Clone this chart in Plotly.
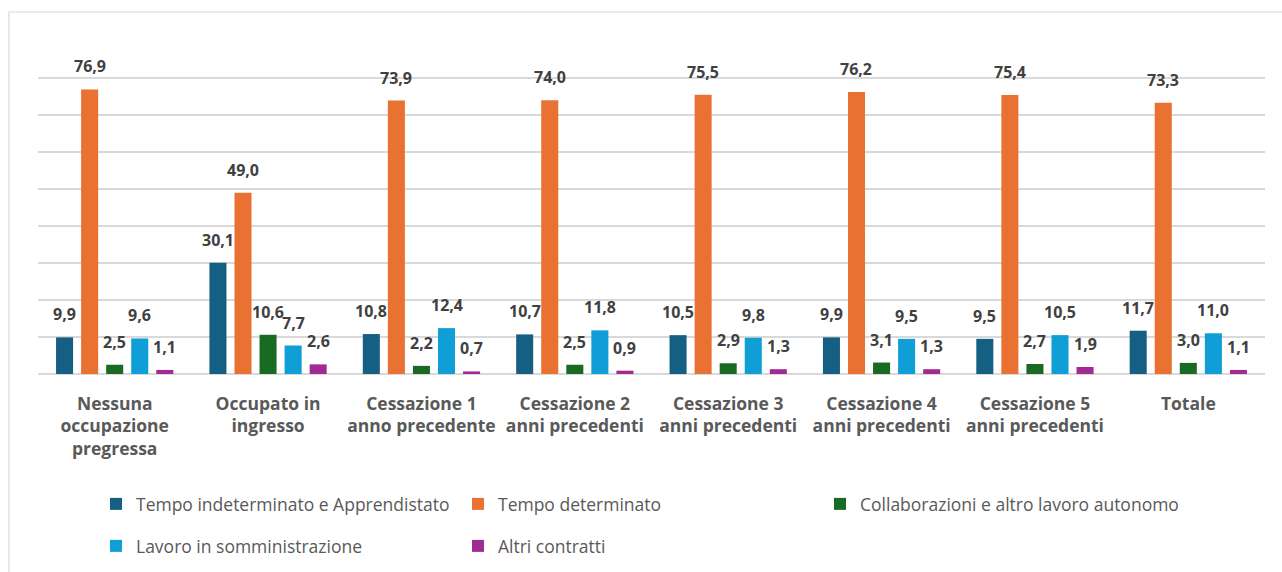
import plotly.graph_objects as go

# Categorie (etichette dell'asse X, già spezzate su più righe)
categories = [
    "Nessuna<br>occupazione<br>pregressa",
    "Occupato in<br>ingresso",
    "Cessazione 1<br>anno precedente",
    "Cessazione 2<br>anni precedenti",
    "Cessazione 3<br>anni precedenti",
    "Cessazione 4<br>anni precedenti",
    "Cessazione 5<br>anni precedenti",
    "Totale",
]

# Valori percentuali per tipologia contrattuale
indeterminato = [9.9, 30.1, 10.8, 10.7, 10.5, 9.9, 9.5, 11.7]
determinato = [76.9, 49.0, 73.9, 74.0, 75.5, 76.2, 75.4, 73.3]
collaborazioni = [2.5, 10.6, 2.2, 2.5, 2.9, 3.1, 2.7, 3.0]
somministrazione = [9.6, 7.7, 12.4, 11.8, 9.8, 9.5, 10.5, 11.0]
altri = [1.1, 2.6, 0.7, 0.9, 1.3, 1.3, 1.9, 1.1]

series_names = [
    "Tempo indeterminato e Apprendistato",
    "Tempo determinato",
    "Collaborazioni e altro lavoro autonomo",
    "Lavoro in somministrazione",
    "Altri contratti",
]
series_values = [indeterminato, determinato, collaborazioni, somministrazione, altri]
series_colors = ["#156082", "#E97132", "#196B24", "#0F9ED5", "#A02B93"]
series_legend = ["legend", "legend", "legend", "legend2", "legend2"]

FONT = "Open Sans"
W, H = 1282, 572
M_L, M_R, M_T, M_B = 38, 17, 41, 198
PLOT_W = W - M_L - M_R
PLOT_H = H - M_T - M_B

BARGAP = 0.183
BARGROUPGAP = 0.32
n_series = len(series_names)
slot_px = PLOT_W / len(categories) * (1 - BARGAP) / n_series

fig = go.Figure()
for name, vals, color, lg in zip(series_names, series_values, series_colors, series_legend):
    fig.add_trace(go.Bar(
        name=name,
        x=categories,
        y=vals,
        marker=dict(color=color, line=dict(width=0)),
        legend=lg,
        hoverinfo="skip",
    ))

# Etichette dei valori sopra ciascuna barra
annotations = []
for j, vals in enumerate(series_values):
    for cat, v in zip(categories, vals):
        annotations.append(dict(
            x=cat, y=v, xref="x", yref="y",
            text=f"{v:.1f}".replace(".", ","),
            showarrow=False,
            xanchor="center", yanchor="bottom",
            xshift=(j - (n_series - 1) / 2) * slot_px,
            yshift=10,
            font=dict(family=FONT, size=16, color="#404040", weight="bold"),
        ))

# Cornice esterna del grafico
def px_to_paper_x(px):
    return (px - M_L) / PLOT_W

def px_to_paper_y(py):
    return (H - M_B - py) / PLOT_H

def px_to_container_y(py):
    return 1 - py / H

shapes = [dict(
    type="rect", xref="paper", yref="paper",
    x0=px_to_paper_x(9), x1=px_to_paper_x(W + 10),
    y0=px_to_paper_y(H + 10), y1=px_to_paper_y(12),
    line=dict(color="#D9D9D9", width=1.2),
    fillcolor="rgba(0,0,0,0)", layer="below",
)]

legend_common = dict(
    orientation="h",
    x=px_to_paper_x(96), xanchor="left",
    yref="container", yanchor="middle",
    entrywidth=317, entrywidthmode="pixels",
    font=dict(family=FONT, size=17.5, color="#595959"),
    bgcolor="rgba(0,0,0,0)",
    traceorder="normal",
)

fig.update_layout(
    width=W, height=H,
    margin=dict(l=M_L, r=M_R, t=M_T, b=M_B, autoexpand=False),
    paper_bgcolor="white", plot_bgcolor="white",
    barmode="group", bargap=BARGAP, bargroupgap=BARGROUPGAP,
    showlegend=True,
    legend=dict(**legend_common, y=px_to_container_y(504)),
    legend2=dict(**legend_common, y=px_to_container_y(546)),
    annotations=annotations,
    shapes=shapes,
    font=dict(family=FONT),
)
fig.update_xaxes(
    type="category",
    showgrid=False, showline=False, ticks="",
    tickfont=dict(family=FONT, size=17.5, color="#595959", weight="bold"),
    ticklabelstandoff=17,
)
fig.update_yaxes(
    range=[0, 90], dtick=10,
    showgrid=True, gridcolor="#D9D9D9", gridwidth=1.5,
    zeroline=True, zerolinecolor="#D9D9D9", zerolinewidth=1.5,
    showticklabels=False, ticks="",
)

fig.write_html("out.html")
